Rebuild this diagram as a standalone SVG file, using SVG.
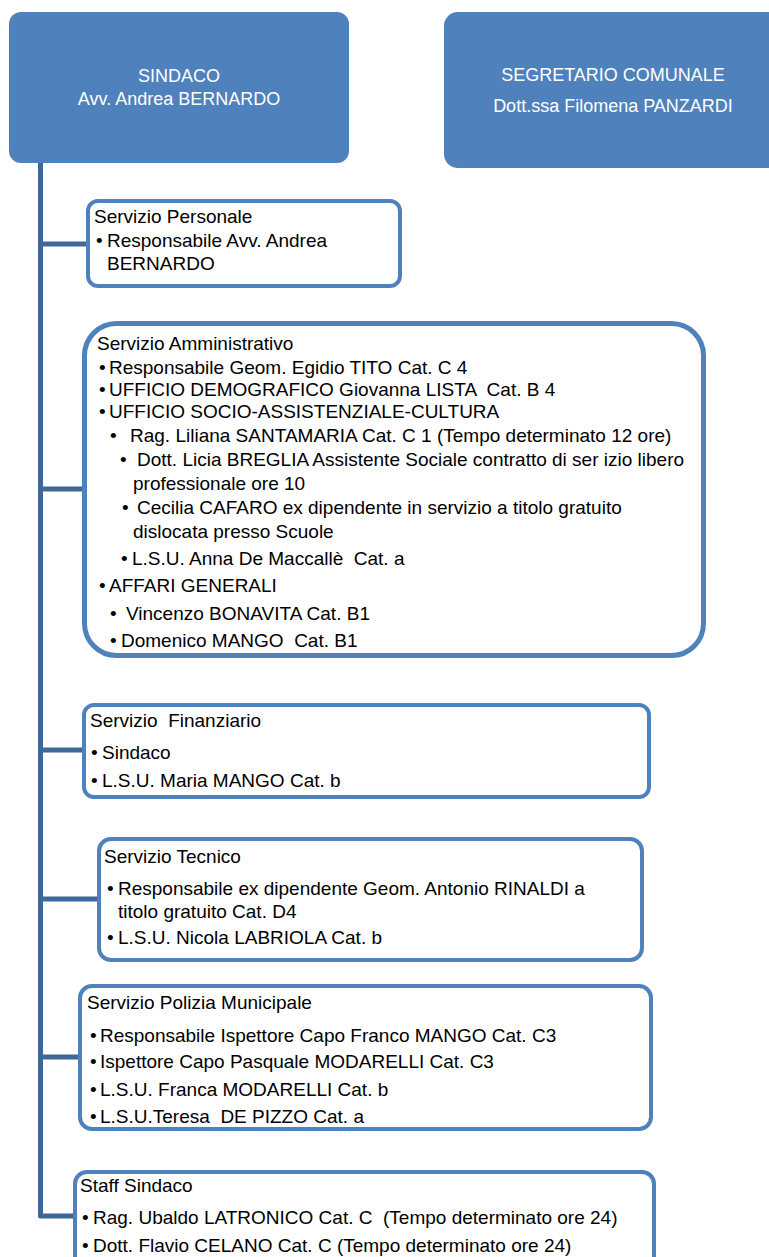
<svg xmlns="http://www.w3.org/2000/svg" width="769" height="1257" viewBox="0 0 769 1257">
<style>
.t{font-family:"Liberation Sans",Arial,sans-serif;font-size:19px;fill:#000;white-space:pre}
.h{font-family:"Liberation Sans",Arial,sans-serif;font-size:18px;fill:#fff;text-anchor:middle}
.box{fill:#fff;stroke:#4f81bd;stroke-width:4}
.top{fill:#4f81bd}
.conn{fill:none;stroke:#3f6797;stroke-width:5;stroke-linejoin:round}
</style>
<rect width="769" height="1257" fill="#fff"/>
<g id="connectors">
<path class="conn" d="M40.5 163 V1216 H75"/>
<path class="conn" d="M40.5 244 H86"/>
<path class="conn" d="M40.5 489 H82"/>
<path class="conn" d="M40.5 750 H82"/>
<path class="conn" d="M40.5 899 H97"/>
<path class="conn" d="M40.5 1057 H78"/>
</g>
<g id="sindaco">
<rect class="top" x="9" y="12" width="340" height="151" rx="12"/>
<text class="h" x="179" y="82">SINDACO</text>
<text class="h" x="179" y="105">Avv. Andrea BERNARDO</text>
</g>
<g id="segretario">
<rect class="top" x="444" y="12" width="340" height="156" rx="14"/>
<text class="h" x="613" y="81">SEGRETARIO COMUNALE</text>
<text class="h" x="613" y="112">Dott.ssa Filomena PANZARDI</text>
</g>
<g id="personale">
<rect class="box" x="88" y="201" width="312" height="85" rx="10"/>
<text class="t" x="94" y="223">Servizio Personale</text>
<text class="t" y="247"><tspan x="96">•</tspan><tspan x="107">Responsabile Avv. Andrea</tspan></text>
<text class="t" x="107" y="270">BERNARDO</text>
</g>
<g id="amministrativo">
<rect class="box" x="84.5" y="323.5" width="619" height="332" rx="32" style="stroke-width:5"/>
<text class="t" x="97" y="350">Servizio Amministrativo</text>
<text class="t" y="374"><tspan x="99">•</tspan><tspan x="109">Responsabile Geom. Egidio TITO Cat. C 4</tspan></text>
<text class="t" y="396"><tspan x="99">•</tspan><tspan x="109">UFFICIO DEMOGRAFICO Giovanna LISTA  Cat. B 4</tspan></text>
<text class="t" y="418"><tspan x="99">•</tspan><tspan x="109">UFFICIO SOCIO-ASSISTENZIALE-CULTURA</tspan></text>
<text class="t" y="442"><tspan x="110">•</tspan><tspan x="130">Rag. Liliana SANTAMARIA Cat. C 1 (Tempo determinato 12 ore)</tspan></text>
<text class="t" y="466"><tspan x="120">•</tspan><tspan x="137">Dott. Licia BREGLIA Assistente Sociale contratto di ser izio libero</tspan></text>
<text class="t" x="133" y="490">professionale ore 10</text>
<text class="t" y="514"><tspan x="122">•</tspan><tspan x="137">Cecilia CAFARO ex dipendente in servizio a titolo gratuito</tspan></text>
<text class="t" x="133" y="538">dislocata presso Scuole</text>
<text class="t" y="565"><tspan x="121">•</tspan><tspan x="132">L.S.U. Anna De Maccallè  Cat. a</tspan></text>
<text class="t" y="592"><tspan x="99">•</tspan><tspan x="109">AFFARI GENERALI</tspan></text>
<text class="t" y="620"><tspan x="110">•</tspan><tspan x="126">Vincenzo BONAVITA Cat. B1</tspan></text>
<text class="t" y="647"><tspan x="110">•</tspan><tspan x="121">Domenico MANGO  Cat. B1</tspan></text>
</g>
<g id="finanziario">
<rect class="box" x="84" y="705" width="565" height="92" rx="10"/>
<text class="t" x="90" y="727">Servizio  Finanziario</text>
<text class="t" y="759"><tspan x="91">•</tspan><tspan x="102">Sindaco</tspan></text>
<text class="t" y="787"><tspan x="91">•</tspan><tspan x="102">L.S.U. Maria MANGO Cat. b</tspan></text>
</g>
<g id="tecnico">
<rect class="box" x="99" y="839" width="543" height="121" rx="12"/>
<text class="t" x="104" y="863">Servizio Tecnico</text>
<text class="t" y="895"><tspan x="107">•</tspan><tspan x="118">Responsabile ex dipendente Geom. Antonio RINALDI a</tspan></text>
<text class="t" x="118" y="918">titolo gratuito Cat. D4</text>
<text class="t" y="944"><tspan x="107">•</tspan><tspan x="118">L.S.U. Nicola LABRIOLA Cat. b</tspan></text>
</g>
<g id="polizia">
<rect class="box" x="80" y="986" width="571" height="143" rx="12"/>
<text class="t" x="87" y="1009">Servizio Polizia Municipale</text>
<text class="t" y="1042"><tspan x="90">•</tspan><tspan x="100">Responsabile Ispettore Capo Franco MANGO Cat. C3</tspan></text>
<text class="t" y="1068"><tspan x="90">•</tspan><tspan x="100">Ispettore Capo Pasquale MODARELLI Cat. C3</tspan></text>
<text class="t" y="1096"><tspan x="90">•</tspan><tspan x="100">L.S.U. Franca MODARELLI Cat. b</tspan></text>
<text class="t" y="1123"><tspan x="90">•</tspan><tspan x="100">L.S.U.Teresa  DE PIZZO Cat. a</tspan></text>
</g>
<g id="staff">
<rect class="box" x="75" y="1172" width="579" height="120" rx="12"/>
<text class="t" x="80" y="1192">Staff Sindaco</text>
<text class="t" y="1224"><tspan x="82">•</tspan><tspan x="93">Rag. Ubaldo LATRONICO Cat. C  (Tempo determinato ore 24)</tspan></text>
<text class="t" y="1252"><tspan x="82">•</tspan><tspan x="93">Dott. Flavio CELANO Cat. C (Tempo determinato ore 24)</tspan></text>
</g>
</svg>
